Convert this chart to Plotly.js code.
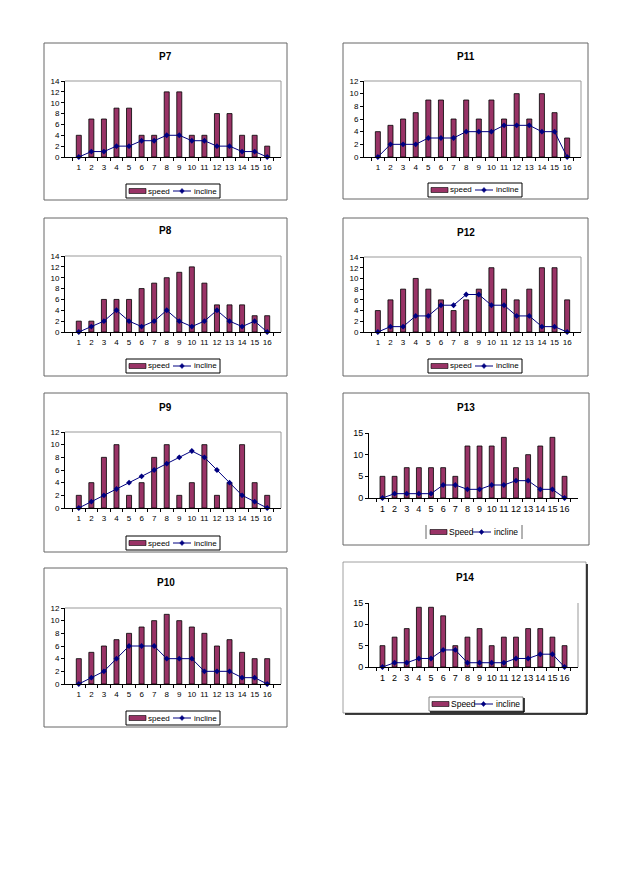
<!DOCTYPE html>
<html><head><meta charset="utf-8">
<script src="https://cdn.plot.ly/plotly-3.0.1.min.js"></script>
<style>html,body{margin:0;padding:0;background:#fff}</style>
</head><body><div id="chart" style="width:630px;height:893px"></div>
<script>
const categories = ['1','2','3','4','5','6','7','8','9','10','11','12','13','14','15','16'];
const p7Speed = [4,7,7,9,9,4,4,12,12,4,4,8,8,4,4,2];
const p7Incline = [0,1,1,2,2,3,3,4,4,3,3,2,2,1,1,0];
const p8Speed = [2,2,6,6,6,8,9,10,11,12,9,5,5,5,3,3];
const p8Incline = [0,1,2,4,2,1,2,4,2,1,2,4,2,1,2,0];
const p9Speed = [2,4,8,10,2,4,8,10,2,4,10,2,4,10,4,2];
const p9Incline = [0,1,2,3,4,5,6,7,8,9,8,6,4,2,1,0];
const p10Speed = [4,5,6,7,8,9,10,11,10,9,8,6,7,5,4,4];
const p10Incline = [0,1,2,4,6,6,6,4,4,4,2,2,2,1,1,0];
const p11Speed = [4,5,6,7,9,9,6,9,6,9,6,10,6,10,7,3];
const p11Incline = [0,2,2,2,3,3,3,4,4,4,5,5,5,4,4,0];
const p12Speed = [4,6,8,10,8,6,4,6,8,12,8,6,8,12,12,6];
const p12Incline = [0,1,1,3,3,5,5,7,7,5,5,3,3,1,1,0];
const p13Speed = [5,5,7,7,7,7,5,12,12,12,14,7,10,12,14,5];
const p13Incline = [0,1,1,1,1,3,3,2,2,3,3,4,4,2,2,0];
const p14Speed = [5,7,9,14,14,12,5,7,9,5,7,7,9,9,7,5];
const p14Incline = [0,1,1,2,2,4,4,1,1,1,1,2,2,3,3,0];

const W = 630, H = 893;
const px = v => v / W;
const py = v => 1 - v / H;
const FONT = 'Liberation Sans, Arial, sans-serif';
const BAR = '#993366', LINE = '#000080';

const panels = [
  {title:'P7', speed:p7Speed, incline:p7Incline, sName:'speed', ymax:14, dtick:2, box:[44,43,287,200], plot:[65,81,281,157], titleY:56, leg:[126,184], style:'excel'},
  {title:'P8', speed:p8Speed, incline:p8Incline, sName:'speed', ymax:14, dtick:2, box:[44,218,287,376], plot:[65,256,281,332], titleY:231, leg:[126,359], style:'excel'},
  {title:'P9', speed:p9Speed, incline:p9Incline, sName:'speed', ymax:12, dtick:2, box:[44,393,287,552], plot:[65,432,281,508], titleY:407, leg:[126,536], style:'excel'},
  {title:'P10', speed:p10Speed, incline:p10Incline, sName:'speed', ymax:12, dtick:2, box:[44,568,287,727], plot:[65,608,281,684], titleY:582, leg:[126,711], style:'excel'},
  {title:'P11', speed:p11Speed, incline:p11Incline, sName:'speed', ymax:12, dtick:2, box:[343,43,588,199], plot:[364,81,581,157], titleY:56, leg:[428,183], style:'excel'},
  {title:'P12', speed:p12Speed, incline:p12Incline, sName:'speed', ymax:14, dtick:2, box:[343,218,588,376], plot:[364,257,581,332], titleY:232, leg:[428,359], style:'excel'},
  {title:'P13', speed:p13Speed, incline:p13Incline, sName:'Speed', ymax:15, dtick:5, box:[343,393,589,545], plot:[369,433,578,498], titleY:407, leg:[427,525], style:'p13'},
  {title:'P14', speed:p14Speed, incline:p14Incline, sName:'Speed', ymax:15, dtick:5, box:[343,562,586,713], plot:[369,603,578,667], titleY:577, leg:[429,697], style:'p14'}
];

const data = [];
const layout = {
  width: W, height: H, margin:{l:0,r:0,t:0,b:0},
  paper_bgcolor:'#fff', plot_bgcolor:'rgba(0,0,0,0)',
  bargap: 0.6, showlegend: false,
  font:{family:FONT, size:8, color:'#000'},
  shapes: [], annotations: []
};

function lineShape(x0, y0, x1, y1, color, width) {
  layout.shapes.push({type:'line', xref:'paper', yref:'paper', x0:px(x0), x1:px(x1), y0:py(y0), y1:py(y1), line:{color:color, width:width}});
}
function rectShape(x0, y0, x1, y1, color, width, fill) {
  layout.shapes.push({type:'rect', xref:'paper', yref:'paper', x0:px(x0), x1:px(x1), y0:py(y1), y1:py(y0), line:{color:color, width:width}, fillcolor: fill || 'rgba(0,0,0,0)'});
}
function label(x, y, text, fs) {
  layout.annotations.push({xref:'paper', yref:'paper', x:px(x), y:py(y), xanchor:'left', yanchor:'middle', text:text,
    showarrow:false, borderpad:0, font:{size:fs, family:FONT, color:'#000'}});
}

// custom legend drawn from the traces' names and colours
function drawLegend(p, barTrace, lineTrace, fs) {
  const L = p.leg[0], T = p.leg[1], w = 94, h = 14, cy = T + 7;
  const big = p.style !== 'excel';
  if (p.style === 'excel') {
    rectShape(L, T, L + w, T + h, '#000', 1, '#fff');
  } else if (p.style === 'p13') {
    lineShape(L - 1, T, L - 1, T + h, '#666', 1);
    lineShape(L + w + 1, T, L + w + 1, T + h, '#666', 1);
  } else {
    rectShape(L, T, L + w, T + h, '#666', 0.8, '#fff');
    lineShape(L + 1, T + h + 1, L + w + 1, T + h + 1, '#000', 1.5);
    lineShape(L + w + 1, T + 1, L + w + 1, T + h + 1, '#000', 1.5);
  }
  rectShape(L + 3, cy - 2.5, L + 20, cy + 2.5, '#000', 0.6, barTrace.marker.color);
  label(L + 21, cy, barTrace.name, fs);
  const l0 = big ? L + 45 : L + 47, l1 = big ? L + 64 : L + 65;
  lineShape(l0, cy, l1, cy, lineTrace.line.color, 1);
  const dx = 2.3, dy = 2.6, mx = (l0 + l1) / 2;
  layout.shapes.push({type:'path', xref:'paper', yref:'paper',
    path:`M ${px(mx-dx)},${py(cy)} L ${px(mx)},${py(cy-dy)} L ${px(mx+dx)},${py(cy)} L ${px(mx)},${py(cy+dy)} Z`,
    fillcolor:lineTrace.marker.color, line:{color:lineTrace.marker.color, width:0.5}});
  label(l1 + 2, cy, lineTrace.name, fs);
}

panels.forEach((p, i) => {
  const n = i + 1;
  const xa = n === 1 ? 'x' : 'x' + n;
  const ya = n === 1 ? 'y' : 'y' + n;
  const xk = n === 1 ? 'xaxis' : 'xaxis' + n;
  const yk = n === 1 ? 'yaxis' : 'yaxis' + n;
  const big = p.style !== 'excel';
  const fs = big ? 9 : 8;

  const barTrace = {type:'bar', x:categories, y:p.speed, name:p.sName, xaxis:xa, yaxis:ya,
    marker:{color:BAR, line:{color:'#000', width:0.8}}, hoverinfo:'skip'};
  const lineTrace = {type:'scatter', mode:'lines+markers', x:categories, y:p.incline, name:'incline', xaxis:xa, yaxis:ya,
    line:{color:LINE, width:1}, marker:{symbol:'diamond', size:4.5, color:LINE}, hoverinfo:'skip', cliponaxis:false};
  data.push(barTrace, lineTrace);

  layout[xk] = {domain:[px(p.plot[0]), px(p.plot[2])], anchor:ya, type:'category', tickangle:0,
    showline:true, linecolor:'#000', linewidth:1, ticks:'outside', tickson:'boundaries', ticklen:3, tickcolor:'#000',
    ticklabelstandoff:2,
    showgrid:false, zeroline:false, tickfont:{size:fs, family:FONT}, fixedrange:true};
  layout[yk] = {domain:[py(p.plot[3]), py(p.plot[1])], anchor:xa, range:[0, p.ymax], dtick:p.dtick,
    showline:true, linecolor:'#000', linewidth:1, ticks:'outside', ticklen:3, tickcolor:'#000',
    showgrid:false, zeroline:false, tickfont:{size:fs, family:FONT}, fixedrange:true};

  // chart area box
  if (p.style === 'p14') {
    rectShape(p.box[0], p.box[1], p.box[2], p.box[3], '#888', 0.8);
    lineShape(p.box[0] + 2, p.box[3] + 1, p.box[2] + 1, p.box[3] + 1, '#000', 1.5);
    lineShape(p.box[2] + 1, p.box[1] + 2, p.box[2] + 1, p.box[3] + 1, '#000', 1.5);
  } else {
    rectShape(p.box[0], p.box[1], p.box[2], p.box[3], '#666', 1);
  }
  // plot area border
  if (p.style === 'excel') {
    lineShape(p.plot[0], p.plot[1], p.plot[2], p.plot[1], '#999', 1);
    lineShape(p.plot[2], p.plot[1], p.plot[2], p.plot[3], '#999', 1);
  } else if (p.style === 'p14') {
    lineShape(p.plot[2], p.plot[1], p.plot[2], p.plot[3], '#999', 1);
  }

  drawLegend(p, barTrace, lineTrace, big ? 8.5 : 8);

  layout.annotations.push({xref:'paper', yref:'paper', x:px((p.box[0]+p.box[2])/2), y:py(p.titleY), xanchor:'center', yanchor:'middle',
    text:'<b>' + p.title + '</b>', showarrow:false, font:{size:10, family:FONT, color:'#000'}});
});

Plotly.newPlot('chart', data, layout, {displayModeBar:false, staticPlot:true});
</script></body></html>
